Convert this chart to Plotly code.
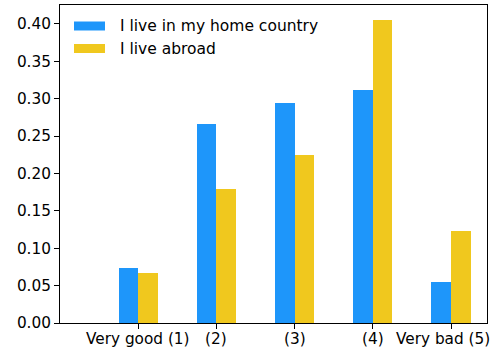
import plotly.graph_objects as go

# Survey answers on a 1-5 scale, shown as share of respondents per group
categories = ["Very good (1)", "(2)", "(3)", "(4)", "Very bad (5)"]
series_names = ["I live in my home country", "I live abroad"]
home_values = [0.074, 0.266, 0.294, 0.312, 0.055]
abroad_values = [0.067, 0.179, 0.225, 0.405, 0.123]
y_ticks = [0.00, 0.05, 0.10, 0.15, 0.20, 0.25, 0.30, 0.35, 0.40]

colors = ["#1E96FA", "#F0C81E"]
font = dict(family="DejaVu Sans", size=15.3, color="#000000")
legend_font = dict(family="DejaVu Sans", size=15.5, color="#000000")

positions = list(range(len(categories)))
bar_w = 0.25

fig = go.Figure()
fig.add_trace(go.Bar(x=positions, y=home_values, width=bar_w, offset=-bar_w,
                     marker=dict(color=colors[0], line=dict(width=0)),
                     name=series_names[0], showlegend=False))
fig.add_trace(go.Bar(x=positions, y=abroad_values, width=bar_w, offset=0,
                     marker=dict(color=colors[1], line=dict(width=0)),
                     name=series_names[1], showlegend=False))

W, H = 427.0, 318.0

# Category labels under the ticks; the last one is nudged left to stay on the page
for i, (pos, label) in enumerate(zip(positions, categories)):
    last = i == len(categories) - 1
    fig.add_annotation(xref="x", yref="paper", x=pos, y=-5 / H, text=label,
                       showarrow=False, xanchor="center", yanchor="top",
                       xshift=-8 if last else 0, font=font)

# Hand-drawn legend with wide colour patches (pixel offsets inside the plot area)
px0, px1, ptx = 14, 45, 58
for i, (name, col) in enumerate(zip(series_names, colors)):
    from_top = 21 + 22.5 * i
    yc = (H - from_top) / H
    fig.add_shape(type="rect", xref="x domain", yref="y domain",
                  x0=px0 / W, x1=px1 / W, y0=yc - 4.5 / H, y1=yc + 4.5 / H,
                  fillcolor=col, line=dict(width=0))
    fig.add_annotation(xref="x domain", yref="y domain", x=ptx / W, y=yc,
                       text=name, showarrow=False, xanchor="left",
                       yanchor="middle", font=legend_font)

fig.update_layout(
    width=495, height=349,
    margin=dict(l=60, r=8, t=5, b=26),
    paper_bgcolor="white", plot_bgcolor="white",
    barmode="overlay", bargap=0,
    font=font,
)
fig.update_xaxes(
    range=[-1.0, 4.46], tickmode="array", tickvals=positions,
    ticktext=[""] * len(positions),
    showgrid=False, zeroline=False, showline=True, linecolor="#000000",
    linewidth=1, mirror=True, ticks="outside", ticklen=5, tickcolor="#000000",
    tickfont=font, automargin=False,
)
fig.update_yaxes(
    range=[0, 0.4254], tickmode="array", tickvals=y_ticks,
    ticktext=[f"{v:.2f}" for v in y_ticks],
    showgrid=False, zeroline=False, showline=True, linecolor="#000000",
    linewidth=1, mirror=True, ticks="outside", ticklen=5, tickcolor="#000000",
    tickfont=font, automargin=False,
)

fig.write_html("out.html")
